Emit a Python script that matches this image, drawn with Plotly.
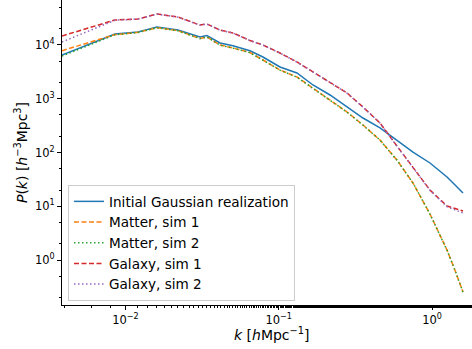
import plotly.graph_objects as go

# wavenumber k [h/Mpc]
k = [0.00385, 0.00854, 0.01207, 0.01606, 0.0220, 0.0306, 0.0340, 0.0414, 0.0503,
     0.0649, 0.0789, 0.1019, 0.1315, 0.1673, 0.2160, 0.2789, 0.3546, 0.4578,
     0.5909, 0.7516, 0.970, 1.253, 1.42, 1.593]

p_initial = [6520, 16020, 17460, 21630, 19010, 14090, 15020, 10890, 9700,
             7830, 5985, 3900, 3010, 1803, 1175, 702, 438, 286,
             171, 102, 63.8, 35.0, 24.5, 17.6]
p_matter1 = [7830, 15600, 17200, 21000, 18500, 13210, 14090, 10000, 8790,
             7250, 5260, 3427, 2540, 1585, 948, 567, 325, 171,
             72.4, 27.1, 7.17, 1.535, 0.62, 0.254]
p_matter2 = [6240, 15500, 17100, 20900, 18400, 13150, 14000, 9950, 8750,
             7200, 5230, 3400, 2520, 1575, 942, 563, 323, 170,
             72.0, 27.0, 7.15, 1.53, 0.62, 0.250]
p_galaxy1 = [14700, 29170, 30470, 37760, 33190, 23560, 24600, 19010, 16720,
             12130, 10000, 7100, 4830, 3150, 2050, 1280, 702, 354,
             132, 51.5, 20.0, 10.1, 8.9, 8.17]
p_galaxy2 = [11370, 28900, 30300, 37500, 33000, 23400, 24500, 18900, 16650,
             12080, 9950, 7070, 4810, 3140, 2040, 1275, 700, 352,
             131, 51.0, 19.8, 9.8, 8.4, 7.5]

series = [
    ("Initial Gaussian realization", p_initial, "#1f77b4", "solid"),
    ("Matter, sim 1", p_matter1, "#ff7f0e", "5px,2.5px"),
    ("Matter, sim 2", p_matter2, "#2ca02c", "1.5px,2.5px"),
    ("Galaxy, sim 1", p_galaxy1, "#d62728", "5px,2.5px"),
    ("Galaxy, sim 2", p_galaxy2, "#9467bd", "1.5px,2.5px"),
]

x_tickvals = [0.01, 0.1, 1]
x_ticktext = ["10<sup>−2</sup>", "10<sup>−1</sup>", "10<sup>0</sup>"]
y_tickvals = [1, 10, 100, 1000, 10000]
y_ticktext = ["10<sup>0</sup>", "10<sup>1</sup>", "10<sup>2</sup>", "10<sup>3</sup>", "10<sup>4</sup>"]

fig = go.Figure()
for name, vals, color, dash in series:
    fig.add_trace(go.Scatter(x=k, y=vals, mode="lines", name=name,
                             line=dict(color=color, dash=dash, width=1.5)))

axis_common = dict(
    type="log", showgrid=False, zeroline=False, showline=True,
    linecolor="black", linewidth=1, mirror=False,
    ticks="outside", ticklen=4, tickwidth=1, tickcolor="black",
    tickfont=dict(family="DejaVu Sans", size=11.5, color="black"),
    minor=dict(ticks="outside", ticklen=2, tickwidth=0.8, tickcolor="black",
               showgrid=False),
)

fig.update_layout(
    width=472, height=349,
    margin=dict(l=62, r=0, t=0, b=44),
    paper_bgcolor="white", plot_bgcolor="white",
    font=dict(family="DejaVu Sans", size=12, color="black"),
    xaxis=dict(axis_common, range=[-2.414, 0.261],
               tickmode="array", tickvals=x_tickvals, ticktext=x_ticktext),
    yaxis=dict(axis_common, range=[-0.837, 4.837],
               tickmode="array", tickvals=y_tickvals, ticktext=y_ticktext,
               title=dict(text="<i>P</i>(<i>k</i>) [<i>h</i><sup>−3</sup>Mpc<sup>3</sup>]",
                          font=dict(size=14), standoff=4)),
    legend=dict(x=0.0146, y=0.013, xanchor="left", yanchor="bottom",
                bgcolor="rgba(255,255,255,0.8)", bordercolor="#cccccc",
                borderwidth=1, font=dict(size=13.6, family="DejaVu Sans"),
                tracegroupgap=0, itemwidth=30),
    showlegend=True,
    annotations=[dict(text="<i>k</i> [<i>h</i>Mpc<sup>−1</sup>]",
                      xref="paper", yref="paper", x=0.512, y=-0.094,
                      xanchor="center", yanchor="middle", showarrow=False,
                      font=dict(size=14, family="DejaVu Sans", color="black"))],
)

fig.write_html("out.html", config={"displayModeBar": False},
               post_script="document.body.style.margin='0';document.body.style.overflow='hidden';")
